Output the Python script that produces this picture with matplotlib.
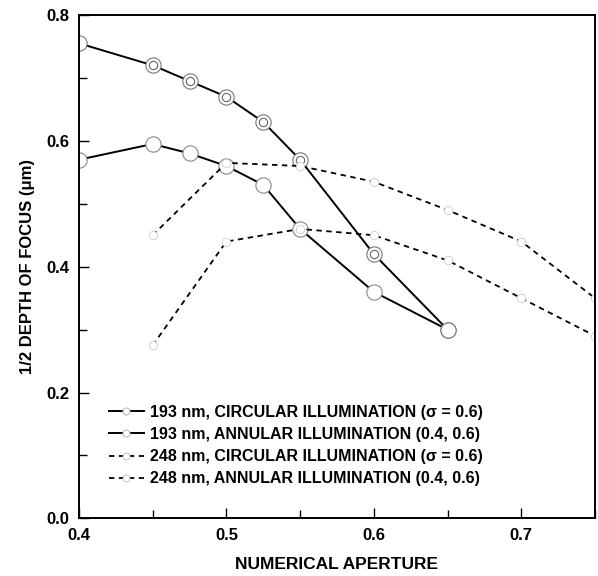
import matplotlib
matplotlib.use("Agg")
import matplotlib.pyplot as plt
from matplotlib.ticker import MultipleLocator

plt.rcParams['font.family'] = ['Liberation Sans', 'DejaVu Sans']

# values
na_193 = [0.40, 0.45, 0.475, 0.50, 0.525, 0.55, 0.60, 0.65]
dof_193_circ = [0.57, 0.595, 0.58, 0.56, 0.53, 0.46, 0.36, 0.30]
dof_193_ann = [0.755, 0.72, 0.695, 0.67, 0.63, 0.57, 0.42, 0.30]

na_248 = [0.45, 0.50, 0.55, 0.60, 0.65, 0.70, 0.75]
dof_248_circ = [0.275, 0.44, 0.46, 0.45, 0.41, 0.35, 0.29]
dof_248_ann = [0.45, 0.565, 0.56, 0.535, 0.49, 0.44, 0.35]

labels = ['193 nm, CIRCULAR ILLUMINATION (\u03c3 = 0.6)',
          '193 nm, ANNULAR ILLUMINATION (0.4, 0.6)',
          '248 nm, CIRCULAR ILLUMINATION (\u03c3 = 0.6)',
          '248 nm, ANNULAR ILLUMINATION (0.4, 0.6)']

fig = plt.figure(figsize=(5.98, 5.76), dpi=100)
ax = fig.add_axes([0.132, 0.10, 0.863, 0.874])

ax.plot(na_193, dof_193_circ, '-', color='black', lw=1.4,
        marker='o', ms=11, mfc='white', mec='#888888', mew=0.8, label=labels[0])
ax.plot(na_193, dof_193_ann, '-', color='black', lw=1.4,
        marker='o', ms=11, mfc='white', mec='#777777', mew=0.8, label=labels[1])
# inner ring for the annular markers
ax.plot(na_193[1:-1], dof_193_ann[1:-1], 'o', ms=6, mfc='none', mec='#666666', mew=0.8)

ax.plot(na_248, dof_248_circ, '--', color='black', lw=1.3, dashes=(3, 2.5),
        marker='o', ms=6, mfc='white', mec='#cccccc', mew=0.6, label=labels[2])
ax.plot(na_248, dof_248_ann, '--', color='black', lw=1.3, dashes=(3, 2.5),
        marker='o', ms=6, mfc='white', mec='#cccccc', mew=0.6, label=labels[3])

ax.set_xlim(0.4, 0.75)
ax.set_ylim(0.0, 0.8)
ax.xaxis.set_major_locator(MultipleLocator(0.1))
ax.xaxis.set_minor_locator(MultipleLocator(0.05))
ax.yaxis.set_minor_locator(MultipleLocator(0.1))
ax.tick_params(which='both', direction='in', top=False, right=False, width=1.0)
ax.tick_params(which='major', length=7, labelsize=12, pad=7)
ax.tick_params(which='minor', length=6)
ax.set_xticks([0.4, 0.5, 0.6, 0.7])
ax.set_xticklabels(['0.4', '0.5', '0.6', '0.7'], fontweight='bold')
ax.set_yticks([0.0, 0.2, 0.4, 0.6, 0.8])
ax.set_yticklabels(['0.0', '0.2', '0.4', '0.6', '0.8'], fontweight='bold')
for s in ax.spines.values():
    s.set_linewidth(1.4)

ax.set_xlabel('NUMERICAL APERTURE', fontsize=12.5, fontweight='bold', labelpad=10)
ax.set_ylabel('1/2 DEPTH OF FOCUS (\u03bcm)', fontsize=12, fontweight='bold', labelpad=8)

leg = ax.legend(loc='lower left', bbox_to_anchor=(0.03, 0.035), frameon=False,
                numpoints=1, handlelength=2.2, handletextpad=0.4,
                prop={'size': 11.5, 'weight': 'bold'}, labelspacing=0.45)
for h in leg.legend_handles:
    h.set_markersize(5)
    h.set_markeredgecolor('#bbbbbb')

fig.savefig('out.png', dpi=100)
